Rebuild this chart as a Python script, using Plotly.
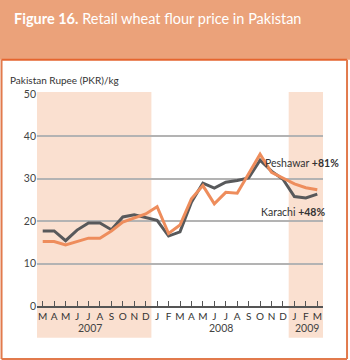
import plotly.graph_objects as go

month_labels = ["M","A","M","J","J","A","S","O","N","D",
                "J","F","M","A","M","J","J","A","S","O","N","D",
                "J","F","M"]
month_idx = list(range(len(month_labels)))
karachi = [17.7,17.7,15.4,17.9,19.6,19.6,18.0,21.0,21.5,20.9,20.2,16.5,17.5,
           24.5,29.0,27.8,29.2,29.6,30.2,34.4,31.8,29.9,25.8,25.5,26.4]
peshawar = [15.2,15.2,14.4,15.2,16.0,16.0,17.7,19.8,20.8,21.7,23.4,17.1,19.1,
            25.3,28.4,24.1,26.8,26.6,31.2,35.8,31.5,30.2,28.8,27.9,27.4]
years = ["2007", "2008", "2009"]
year_pos = [4.1, 15.6, 23.1]
shade_spans = [(-0.5, 9.5), (21.5, 24.5)]
y_ticks = [0, 10, 20, 30, 40, 50]

FONT = "Lato"
fig = go.Figure()
fig.add_trace(go.Scatter(x=month_idx, y=karachi, mode="lines", name="Karachi",
                         line=dict(color="#58595B", width=3), cliponaxis=False))
fig.add_trace(go.Scatter(x=month_idx, y=peshawar, mode="lines", name="Peshawar",
                         line=dict(color="#EE8D5C", width=3), cliponaxis=False))

shapes = []
for a, b in shade_spans:
    shapes.append(dict(type="rect", xref="x", yref="paper", x0=a, x1=b, y0=-0.15, y1=1.01,
                       fillcolor="#FAE0D0", line=dict(width=0), layer="below"))
# title band and frame
shapes.append(dict(type="rect", xref="paper", yref="paper", x0=-0.14, x1=1.10, y0=1.162, y1=1.5,
                   fillcolor="#EBA27A", line=dict(width=0), layer="below"))
shapes.append(dict(type="line", xref="paper", yref="paper", x0=-0.124, x1=1.084, y0=1.162, y1=1.162,
                   line=dict(color="#E5652F", width=2)))
shapes.append(dict(type="line", xref="paper", yref="paper", x0=-0.124, x1=-0.124, y0=1.162, y1=-0.25,
                   line=dict(color="#E27A4C", width=2)))
shapes.append(dict(type="line", xref="paper", yref="paper", x0=1.084, x1=1.084, y0=1.162, y1=-0.25,
                   line=dict(color="#E27A4C", width=2)))
shapes.append(dict(type="line", xref="paper", yref="paper", x0=-0.124, x1=1.084, y0=-0.25, y1=-0.25,
                   line=dict(color="#E27A4C", width=2)))

annotations = [
    dict(text="<b>Figure 16.</b> Retail wheat flour price in Pakistan", xref="paper", yref="paper",
         x=-0.088, y=1.356, xanchor="left", yanchor="middle", showarrow=False,
         font=dict(family=FONT, size=14.5, color="white")),
    dict(text="Pakistan Rupee (PKR)/kg", xref="paper", yref="paper", x=-0.101, y=1.066,
         xanchor="left", yanchor="middle", showarrow=False,
         font=dict(family=FONT, size=10, color="#333")),
    dict(text="Peshawar <b>+81%</b>", xref="paper", yref="paper", x=1.063, y=0.673,
         xanchor="right", yanchor="middle", showarrow=False,
         font=dict(family=FONT, size=10.5, color="#333")),
    dict(text="Karachi <b>+48%</b>", xref="paper", yref="paper", x=1.014, y=0.443,
         xanchor="right", yanchor="middle", showarrow=False,
         font=dict(family=FONT, size=10.5, color="#333")),
]
for yr, p in zip(years, year_pos):
    annotations.append(dict(text=yr, xref="x", yref="paper", x=p, y=-0.105,
                            xanchor="center", yanchor="middle", showarrow=False,
                            font=dict(family=FONT, size=10.5, color="#444")))

fig.update_layout(
    width=350, height=360,
    margin=dict(l=37, r=27, t=94, b=54),
    paper_bgcolor="white", plot_bgcolor="rgba(0,0,0,0)",
    showlegend=False,
    shapes=shapes, annotations=annotations,
    font=dict(family=FONT, size=10, color="#444"),
)
fig.update_xaxes(range=[-0.5, 24.5], tickvals=month_idx, ticktext=month_labels,
                 showgrid=False, zeroline=False, showline=True, linecolor="#555", linewidth=2,
                 ticks="inside", ticklen=5, tickwidth=1, tickcolor="#555",
                 tickfont=dict(family=FONT, size=10, color="#333"), fixedrange=True)
fig.update_yaxes(range=[0, 50], tickvals=y_ticks, showgrid=True, gridcolor="#B3B3B3", gridwidth=1.5,
                 zeroline=False, showline=False, ticks="",
                 tickfont=dict(family=FONT, size=10.5, color="#444"), fixedrange=True)

fig.write_html("out.html", config=dict(displayModeBar=False))
